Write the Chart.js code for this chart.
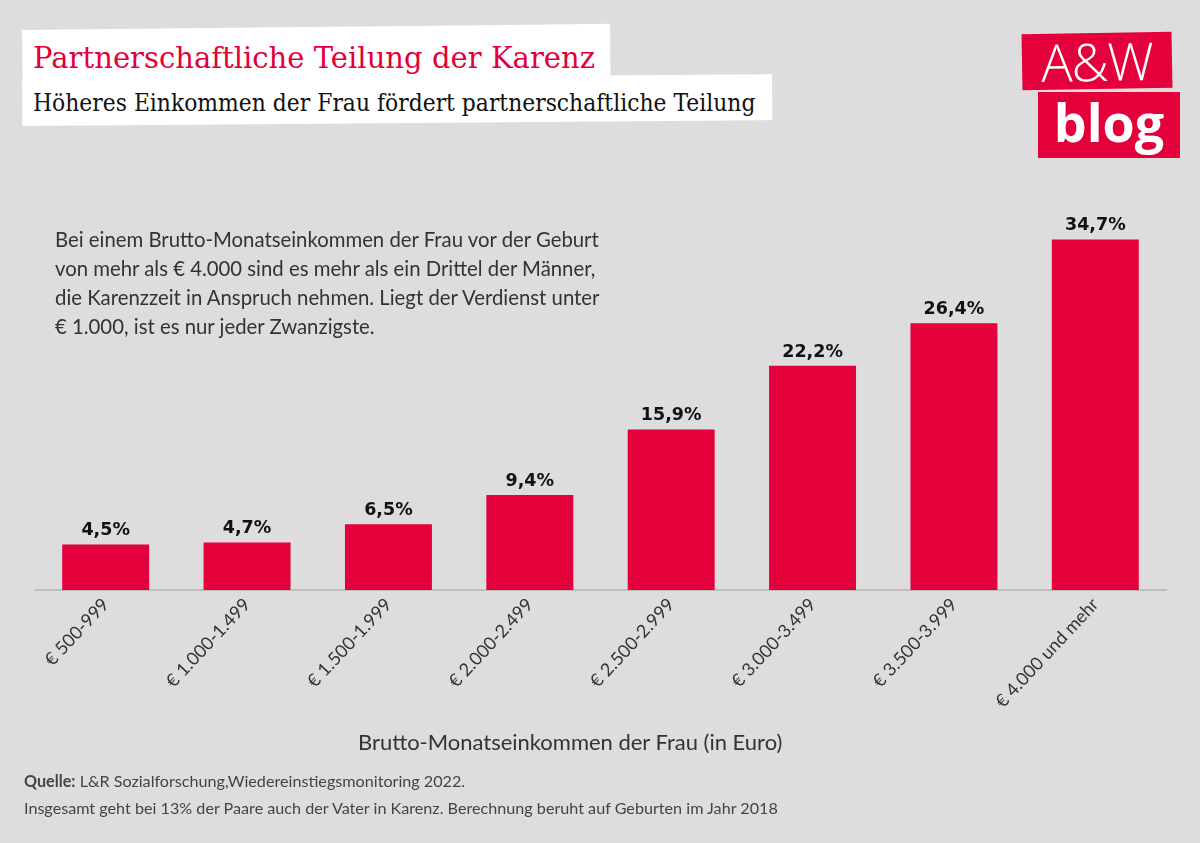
<!DOCTYPE html>
<html>
<head>
<meta charset="utf-8">
<script src="https://cdn.jsdelivr.net/npm/chart.js@4.4.1/dist/chart.umd.min.js"></script>
<style>
  html, body { margin:0; padding:0; width:1200px; height:843px; background:#dddddd; overflow:hidden; }
  #wrap { position:relative; width:1200px; height:843px; }
  #chart { position:absolute; left:0; top:0; }
  .box { position:absolute; background:#fff; }
  .t { position:absolute; white-space:nowrap; }
  #title { left:33px; top:40px; font-family:"DejaVu Serif"; color:#e2003a; font-size:30px; transform-origin:left top; }
  #subtitle { left:33px; top:88px; font-family:"DejaVu Serif"; color:#111; font-size:25px; transform-origin:left top; }
  #para { left:55px; top:225px; font-family:Lato; color:#333; font-size:20px; line-height:29px; }
  #para div { white-space:nowrap; }
  #xtitle { left:358px; top:728px; font-family:Lato; color:#333; font-size:21px; }
  #foot { left:24px; top:767px; font-family:Lato; color:#444; font-size:15.5px; line-height:27px; }
  .logo { position:absolute; background:#e4003a; color:#fff; font-family:"Open Sans"; text-align:center; }
</style>
</head>
<body>
<div id="wrap">
  <div class="box" style="left:22px; top:30px; width:588px; height:54px; transform:rotate(-0.6deg); transform-origin:left top;"></div>
  <div class="box" style="left:22px; top:80px; width:750px; height:46px; transform:rotate(-0.45deg); transform-origin:left top;"></div>
  <div class="t" id="title" data-w="562">Partnerschaftliche Teilung der Karenz</div>
  <div class="t" id="subtitle" data-w="722">Höheres Einkommen der Frau fördert partnerschaftliche Teilung</div>

  <div class="logo" style="left:1022px; top:33px; width:150px; height:56px; transform:rotate(-1deg);">
    <div style="font-weight:300; font-size:52px; line-height:56px; letter-spacing:-1px;">A&amp;W</div>
  </div>
  <div class="logo" style="left:1038px; top:92px; width:142px; height:66px;">
    <div style="font-weight:700; font-size:52px; line-height:60px;">blog</div>
  </div>

  <canvas id="chart" width="1200" height="843"></canvas>

  <div class="t" id="para">
    <div data-w="545">Bei einem Brutto-Monatseinkommen der Frau vor der Geburt</div>
    <div>von mehr als € 4.000 sind es mehr als ein Drittel der Männer,</div>
    <div>die Karenzzeit in Anspruch nehmen. Liegt der Verdienst unter</div>
    <div>€ 1.000, ist es nur jeder Zwanzigste.</div>
  </div>
  <div class="t" id="xtitle" data-w="425">Brutto-Monatseinkommen der Frau (in Euro)</div>
  <div class="t" id="foot">
    <div><b>Quelle:</b> L&amp;R Sozialforschung,Wiedereinstiegsmonitoring 2022.</div>
    <div data-w="754">Insgesamt geht bei 13% der Paare auch der Vater in Karenz. Berechnung beruht auf Geburten im Jahr 2018</div>
  </div>
</div>
<script>
// ---- data ----
const categories = ["€ 500-999", "€ 1.000-1.499", "€ 1.500-1.999", "€ 2.000-2.499", "€ 2.500-2.999", "€ 3.000-3.499", "€ 3.500-3.999", "€ 4.000 und mehr"];
const shareFathersKarenz = [4.5, 4.7, 6.5, 9.4, 15.9, 22.2, 26.4, 34.7];
const yMin = 0;
const yMax = 40;

// fit text widths to reference
function applyFit(sel, inside) {
  const parent = document.querySelector(sel);
  const ref = inside ? parent.querySelector('[data-w]') : parent;
  const target = parseFloat(ref.dataset.w);
  const w = ref.scrollWidth;
  const fs = parseFloat(getComputedStyle(parent).fontSize);
  parent.style.fontSize = (fs * target / w) + 'px';
}
function applyScaleX(sel) {
  const el = document.querySelector(sel);
  const target = parseFloat(el.dataset.w);
  el.style.transform = 'scaleX(' + (target / el.scrollWidth) + ')';
}
applyScaleX('#title');
applyScaleX('#subtitle');
applyFit('#para', true);
applyFit('#xtitle');
applyFit('#foot', true);

const fmt = v => v.toFixed(1).replace('.', ',') + '%';

const valueLabels = {
  id: 'valueLabels',
  afterDatasetsDraw(chart) {
    const ctx = chart.ctx;
    const meta = chart.getDatasetMeta(0);
    ctx.save();
    ctx.font = 'bold 17.5px "DejaVu Sans"';
    ctx.fillStyle = '#111';
    ctx.textAlign = 'center';
    ctx.textBaseline = 'bottom';
    meta.data.forEach((bar, i) => {
      ctx.fillText(fmt(chart.data.datasets[0].data[i]), bar.x, bar.y - 5);
    });
    ctx.restore();
  }
};

new Chart(document.getElementById('chart'), {
  type: 'bar',
  data: {
    labels: categories,
    datasets: [{
      data: shareFathersKarenz,
      backgroundColor: '#e4003a',
      borderWidth: 0,
      categoryPercentage: 1,
      barPercentage: 0.615
    }]
  },
  options: {
    responsive: false,
    animation: false,
    devicePixelRatio: 1,
    layout: { padding: { left: 35, right: 34, top: 186, bottom: 0 } },
    plugins: { legend: { display: false }, tooltip: { enabled: false } },
    scales: {
      y: { display: false, min: yMin, max: yMax },
      x: {
        grid: { display: false, drawTicks: false },
        border: { display: true, color: '#bdbdbd', width: 2 },
        ticks: {
          color: '#333',
          font: { family: 'Lato', size: 18 },
          minRotation: 47, maxRotation: 47,
          padding: 4,
          autoSkip: false
        },
        afterFit(scale) { scale.height = 843 - 590; }
      }
    }
  },
  plugins: [valueLabels]
});
</script>
</body>
</html>
